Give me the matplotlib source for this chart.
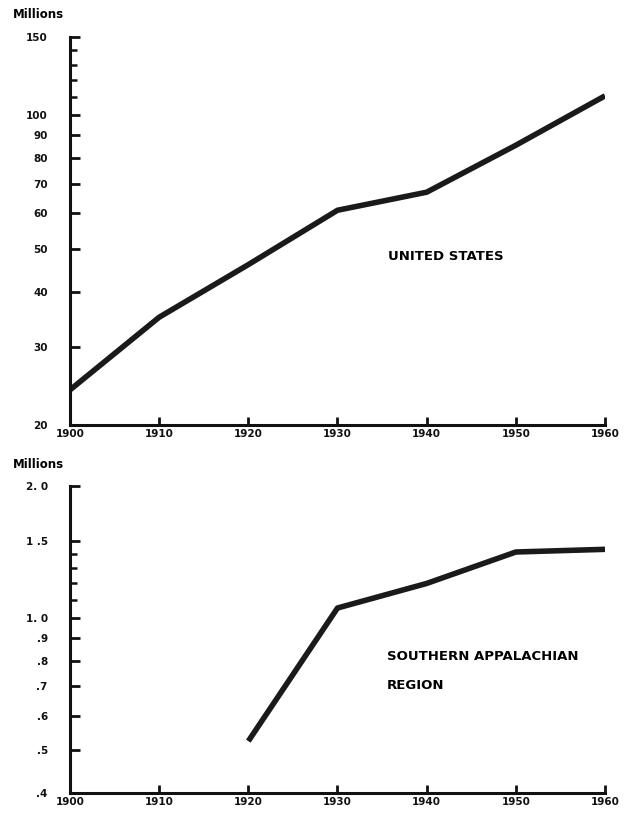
import matplotlib
matplotlib.use("Agg")
import matplotlib.pyplot as plt
from matplotlib.ticker import FixedLocator, FixedFormatter, NullFormatter

# Data
years_us = [1900, 1910, 1920, 1930, 1940, 1950, 1960]
us_millions = [24.0, 35.0, 46.0, 61.0, 67.0, 85.5, 110.5]

years_sa = [1920, 1930, 1940, 1950, 1960]
sa_millions = [0.525, 1.055, 1.20, 1.415, 1.435]

x_ticks = [1900, 1910, 1920, 1930, 1940, 1950, 1960]
x_labels = ["1900", "1910", "1920", "1930", "1940", "1950", "1960"]

us_major = [20, 30, 40, 50, 60, 70, 80, 90, 100, 150]
us_major_labels = ["20", "30", "40", "50", "60", "70", "80", "90", "100", "150"]
us_minor = [110, 120, 130, 140]

sa_major = [0.4, 0.5, 0.6, 0.7, 0.8, 0.9, 1.0, 1.5, 2.0]
sa_major_labels = [".4", ".5", ".6", ".7", ".8", ".9", "1. 0", "1 .5", "2. 0"]
sa_minor = [1.1, 1.2, 1.3, 1.4]

fig = plt.figure(figsize=(6.24, 8.21), dpi=100)
fw, fh = 624, 821

def ax_at(x0, y0, x1, y1):
    return fig.add_axes([x0 / fw, 1 - y1 / fh, (x1 - x0) / fw, (y1 - y0) / fh])

ax1 = ax_at(70, 37, 605, 425)
ax2 = ax_at(70, 486, 605, 793)

font = dict(family="DejaVu Sans", weight="bold", size=7.5)

def style(ax, ymin, ymax, major, labels, minor):
    ax.set_yscale("log")
    ax.set_xlim(1900, 1960)
    ax.set_ylim(ymin, ymax)
    ax.yaxis.set_major_locator(FixedLocator(major))
    ax.yaxis.set_major_formatter(FixedFormatter(labels))
    ax.yaxis.set_minor_locator(FixedLocator(minor))
    ax.yaxis.set_minor_formatter(NullFormatter())
    ax.set_xticks(x_ticks)
    ax.set_xticklabels(x_labels)
    for s in ["top", "right"]:
        ax.spines[s].set_visible(False)
    for s in ["left", "bottom"]:
        ax.spines[s].set_linewidth(2.2)
        ax.spines[s].set_color("#111111")
    ax.tick_params(axis="y", which="major", direction="in", length=7, width=2, pad=16, colors="#111111")
    ax.tick_params(axis="y", which="minor", direction="in", length=5, width=1.8, colors="#111111")
    ax.tick_params(axis="x", which="major", direction="in", length=6, width=2, pad=3, colors="#111111")
    for lab in ax.get_xticklabels() + ax.get_yticklabels():
        lab.set_fontproperties(matplotlib.font_manager.FontProperties(**font))

style(ax1, 20, 150, us_major, us_major_labels, us_minor)
style(ax2, 0.4, 2.0, sa_major, sa_major_labels, sa_minor)

ax1.plot(years_us, us_millions, color="#1a1a1a", lw=4, solid_capstyle="butt", solid_joinstyle="round")
ax2.plot(years_sa, sa_millions, color="#1a1a1a", lw=4, solid_capstyle="butt", solid_joinstyle="round")

fig.text(13 / fw, 1 - 14 / fh, "Millions", ha="left", va="center", fontsize=8.5, fontweight="bold", family="DejaVu Sans")
fig.text(13 / fw, 1 - 464 / fh, "Millions", ha="left", va="center", fontsize=8.5, fontweight="bold", family="DejaVu Sans")

fig.text(388 / fw, 1 - 257 / fh, "UNITED STATES", ha="left", va="center", fontsize=9.5, fontweight="bold", family="DejaVu Sans")
fig.text(387 / fw, 1 - 656 / fh, "SOUTHERN APPALACHIAN", ha="left", va="center", fontsize=9.5, fontweight="bold", family="DejaVu Sans")
fig.text(387 / fw, 1 - 685 / fh, "REGION", ha="left", va="center", fontsize=9.5, fontweight="bold", family="DejaVu Sans")

fig.savefig("out.png", dpi=100, facecolor="white")
